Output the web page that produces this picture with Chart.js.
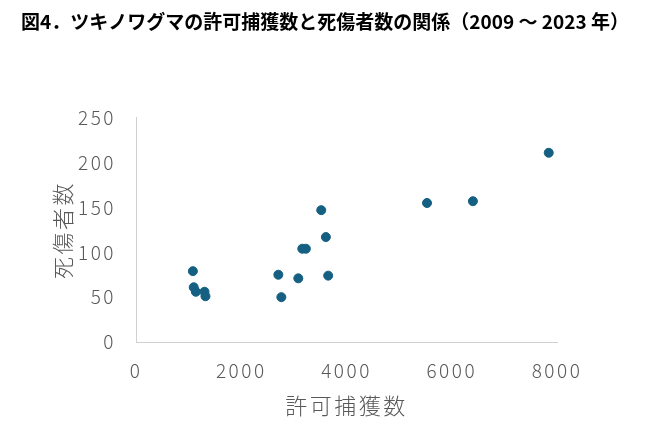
<!DOCTYPE html>
<html>
<head>
<meta charset="utf-8">
<script src="https://cdn.jsdelivr.net/npm/chart.js@4"></script>
<style>
  html, body { margin: 0; padding: 0; background: #fff; }
  #wrap { width: 650px; height: 433px; }
</style>
</head>
<body>
<div id="wrap"><canvas id="myChart"></canvas></div>
<script>
// 許可捕獲数 (x) と 死傷者数 (y), 2009-2023
const permitCaptures = [1081, 1097, 1137, 1302, 1320, 2705, 2762, 3084, 3160, 3228, 3520, 3608, 3652, 5530, 6402, 7843];
const casualties     = [79, 61, 56, 56, 51, 75, 50, 71, 104, 104, 147, 117, 74, 155, 157, 211];

const xTicks = [0, 2000, 4000, 6000, 8000];
const yTicks = [0, 50, 100, 150, 200, 250];

const titleText = '図4．ツキノワグマの許可捕獲数と死傷者数の関係（2009 ～ 2023 年）';
const xTitle = '許可捕獲数';
const yTitle = '死傷者数';

const gray = '#595959';
const tickFont = { family: 'Noto Sans CJK JP', size: 19, weight: 300 };
const axisTitleFont = { family: 'Noto Sans CJK JP', size: 22, weight: 300 };

// letter spacing for ticks/axis titles, none for the chart title
const spacing = {
  id: 'spacing',
  afterInit(chart) {
    const tb = chart.titleBlock;
    if (tb) {
      const orig = tb.draw;
      tb.draw = function () {
        const ctx = chart.ctx;
        const prev = ctx.letterSpacing;
        ctx.letterSpacing = '0px';
        orig.apply(this, arguments);
        ctx.letterSpacing = prev;
      };
    }
  },
  beforeLayout(chart) { chart.ctx.letterSpacing = '2.5px'; },
  beforeDraw(chart) { chart.ctx.letterSpacing = '2.5px'; }
};

const points = permitCaptures.map((x, i) => ({ x: x, y: casualties[i] }));

new Chart(document.getElementById('myChart').getContext('2d'), {
  type: 'scatter',
  data: {
    datasets: [{
      data: points,
      backgroundColor: '#156082',
      borderColor: '#156082',
      pointRadius: 4.5,
      pointHoverRadius: 4.5
    }]
  },
  options: {
    responsive: true,
    maintainAspectRatio: false,
    animation: false,
    layout: { padding: 0 },
    plugins: {
      legend: { display: false },
      tooltip: { enabled: false },
      title: {
        display: true,
        text: titleText,
        color: '#000',
        font: { family: 'Noto Sans CJK JP', size: 19, weight: 'bold' },
        padding: { top: 10, bottom: 85 }
      }
    },
    scales: {
      x: {
        type: 'linear',
        min: 0, max: 8000,
        afterBuildTicks(scale) { scale.ticks = xTicks.map(v => ({ value: v })); },
        afterFit(scale) { scale.height = 91; },
        grid: { color: 'transparent', drawTicks: false },
        border: { color: '#d0d0d0', width: 1 },
        ticks: { color: gray, font: tickFont, padding: 17, maxRotation: 0,
                 callback: v => String(v) },
        title: { display: true, text: xTitle, color: gray, font: axisTitleFont,
                 padding: { bottom: 14 } }
      },
      y: {
        type: 'linear',
        min: 0, max: 250,
        afterBuildTicks(scale) { scale.ticks = yTicks.map(v => ({ value: v })); },
        afterFit(scale) { scale.width = 136; },
        grid: { color: 'transparent', drawTicks: false },
        border: { color: '#d0d0d0', width: 1 },
        ticks: { color: gray, font: tickFont, padding: 20,
                 callback: v => String(v) },
        title: { display: true, text: yTitle, color: gray, font: axisTitleFont,
                 padding: { top: 49 } }
      },
      // empty right-hand axis that only reserves the right margin
      yRight: {
        type: 'linear',
        position: 'right',
        display: true,
        afterFit(scale) { scale.width = 93; },
        grid: { display: false, drawTicks: false },
        border: { display: false },
        ticks: { display: false }
      }
    }
  },
  plugins: [spacing]
});
</script>
</body>
</html>
